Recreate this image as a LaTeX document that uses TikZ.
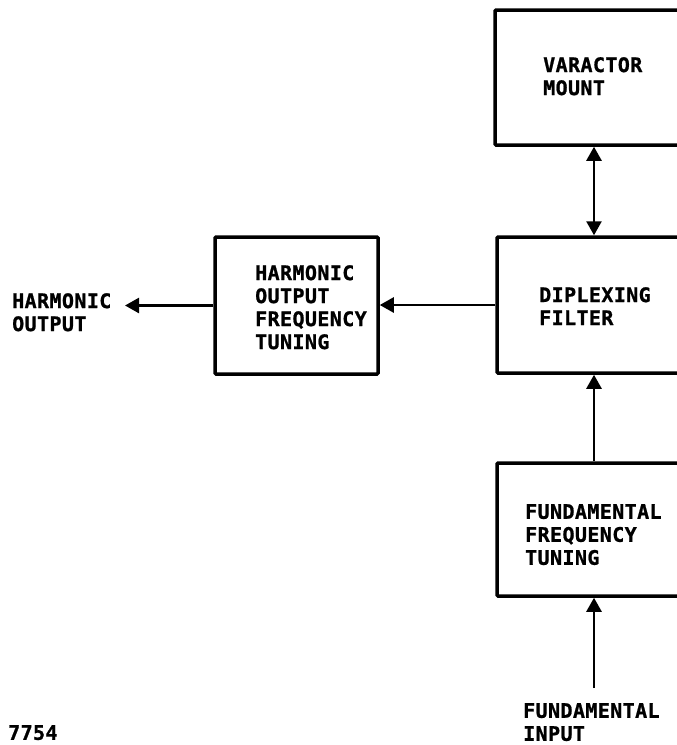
\documentclass[tikz,border=0pt]{standalone}
\usepackage{fontspec}
\usepackage{tikz}
\usetikzlibrary{arrows.meta}
\newfontfamily\diafont[LetterSpace=2, BoldFeatures={FakeBold=1}]{DejaVu Sans Mono}

\begin{document}
\begin{tikzpicture}[x=1pt, y=-1pt,
  box/.style={draw, line width=3.5pt, rounded corners=1pt, inner sep=0pt},
  lbl/.style={anchor=north west, inner sep=0pt, align=left,
    font=\diafont\bfseries\fontsize{20}{23}\selectfont},
  arr/.style={line width=2.5pt, >={Triangle[length=14pt, width=15pt]}}]
  \useasboundingbox (0,0) rectangle (677,745);
  \clip (0,0) rectangle (677,745);
  % blocks
  \node[box, minimum width=196pt, minimum height=135pt] (vm) at (593,77.5) {};
  \node[box, minimum width=194pt, minimum height=136pt] (df) at (594,305) {};
  \node[box, minimum width=194pt, minimum height=133pt] (ft) at (594,529.5) {};
  \node[box, minimum width=163pt, minimum height=137pt] (hb) at (296.5,305.5) {};
  % texts
  \node[lbl] (vmt) at (543,57) {VARACTOR\\MOUNT};
  \node[lbl] (dft) at (539,287) {DIPLEXING\\FILTER};
  \node[lbl] (ftt) at (525,504) {FUNDAMENTAL\\FREQUENCY\\TUNING};
  \node[lbl] (hbt) at (255,265) {HARMONIC\\OUTPUT\\FREQUENCY\\TUNING};
  \node[lbl] (outt) at (12,293) {HARMONIC\\OUTPUT};
  \node[lbl] (int) at (523,703) {FUNDAMENTAL\\INPUT};
  \node[lbl] (num) at (8,725) {7754};
  % connectors
  \coordinate (in) at (594,688);
  \coordinate (out) at (125,305.5);
  \draw[arr, <->] (vm.south -| df.north) -- (df.north);
  \draw[arr, ->] (ft.north) -- (df.south);
  \draw[arr, ->] (in) -- (ft.south);
  \draw[arr, ->] (df.west) -- (df.west -| hb.east);
  \draw[arr, ->] (hb.west) -- (out);
\end{tikzpicture}
\end{document}
